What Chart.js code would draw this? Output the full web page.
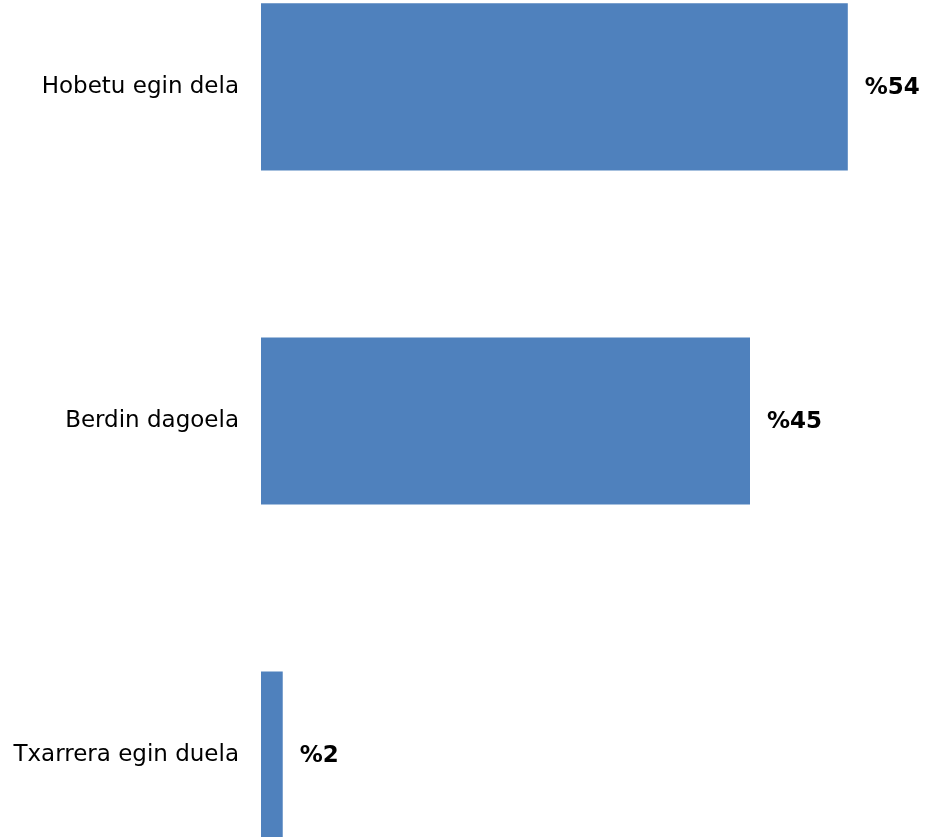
<!DOCTYPE html>
<html>
<head>
<meta charset="utf-8">
<script src="https://cdn.jsdelivr.net/npm/chart.js@4"></script>
<style>
  html, body { margin: 0; padding: 0; background: #ffffff; overflow: hidden; width: 928px; height: 837px; }
  #c { position: absolute; left: 0; top: -116px; }
</style>
</head>
<body>
<canvas id="c" width="928" height="1074"></canvas>
<script>
const categories = ["Hobetu egin dela", "Berdin dagoela", "Txarrera egin duela"];
const values = [54, 45, 2];
const valueLabels = ["%54", "%45", "%2"];

const valueLabelPlugin = {
  id: 'valueLabels',
  afterDatasetsDraw(chart) {
    const ctx = chart.ctx;
    const meta = chart.getDatasetMeta(0);
    ctx.save();
    ctx.font = 'bold 23px "DejaVu Sans", sans-serif';
    ctx.fillStyle = '#000000';
    ctx.textAlign = 'left';
    ctx.textBaseline = 'middle';
    meta.data.forEach((bar, i) => {
      ctx.fillText(valueLabels[i], bar.x + 17, bar.y + 1);
    });
    ctx.restore();
  }
};

new Chart(document.getElementById('c'), {
  type: 'bar',
  data: {
    labels: categories,
    datasets: [{
      data: values,
      backgroundColor: '#4F81BD',
      borderWidth: 0,
      categoryPercentage: 1.0,
      barPercentage: 0.5
    }]
  },
  options: {
    indexAxis: 'y',
    responsive: false,
    maintainAspectRatio: false,
    animation: false,
    layout: { padding: { left: 0, right: 15, top: 0, bottom: 0 } },
    plugins: { legend: { display: false }, tooltip: { enabled: false } },
    scales: {
      x: {
        min: 0, max: 60,
        display: false,
        grid: { display: false }
      },
      y: {
        offset: true,
        grid: { display: false, drawTicks: false },
        border: { display: false },
        ticks: {
          color: '#000000',
          padding: 22,
          font: { size: 23, family: '"DejaVu Sans", sans-serif' }
        },
        afterFit(scale) { scale.width = 261; }
      }
    }
  },
  plugins: [valueLabelPlugin]
});
</script>
</body>
</html>
